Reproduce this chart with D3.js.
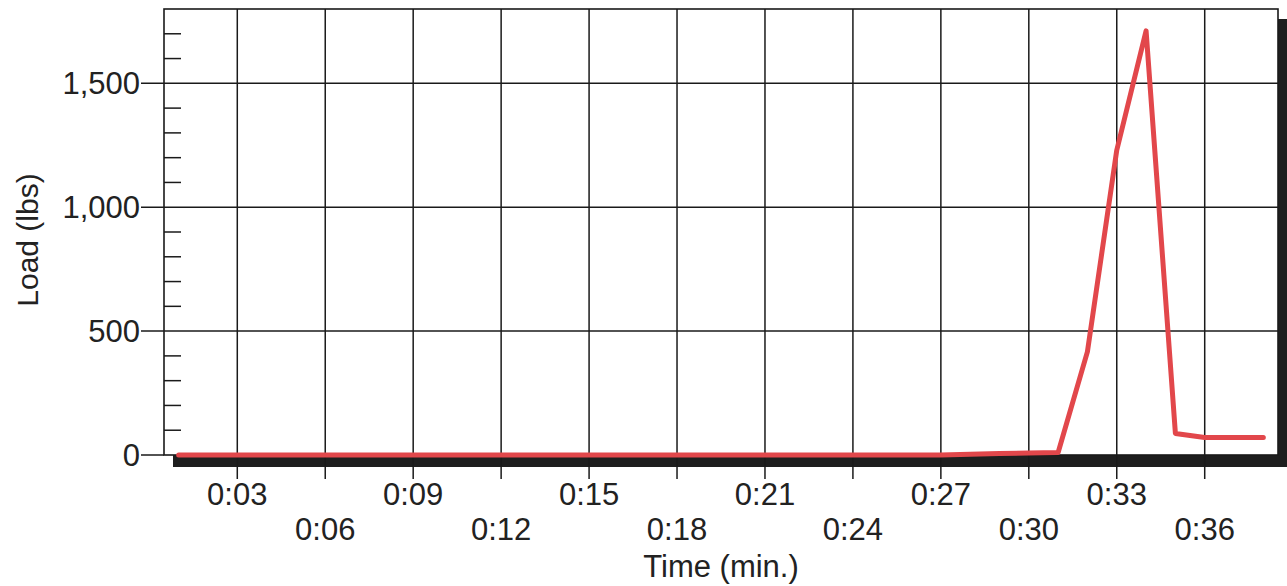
<!DOCTYPE html>
<html><head><meta charset="utf-8">
<script src="https://cdn.jsdelivr.net/npm/d3@7"></script>
<style>
html,body{margin:0;padding:0;background:#fff;}
svg text{font-family:"Liberation Sans",Arial,sans-serif;fill:#222;}
</style></head>
<body>
<svg id="chart" width="1287" height="586"></svg>
<script>
// Data
const minutes = [1,2,3,4,5,6,7,8,9,10,11,12,13,14,15,16,17,18,19,20,21,22,23,24,25,26,27,28,29,30,31,32,33,34,35,36,37,38];
const loads   = [0,0,0,0,0,0,0,0,0,0,0,0,0,0,0,0,0,0,0,0,0,0,0,0,0,0,0,3,6,8,10,417,1230,1712,87,71,71,71];
const xTicks = [3,6,9,12,15,18,21,24,27,30,33,36];
const xTickLabels = ["0:03","0:06","0:09","0:12","0:15","0:18","0:21","0:24","0:27","0:30","0:33","0:36"];
const yMajor = [0,500,1000,1500];
const yMinor = [100,200,300,400,600,700,800,900,1100,1200,1300,1400,1600,1700];

const svg = d3.select("#chart");
const L = 164, R = 1278, T = 9, B = 455;
const x = d3.scaleLinear().domain([0.5, 38.5]).range([L, R]);
const y = d3.scaleLinear().domain([0, 1800]).range([B, T]);

// drop shadow
svg.append("rect").attr("x", L + 9).attr("y", T + 10).attr("width", R - L).attr("height", B - T + 2)
  .attr("fill", "#1e1e1e");
// plot area
svg.append("rect").attr("x", L).attr("y", T).attr("width", R - L).attr("height", B - T)
  .attr("fill", "#fff").attr("stroke", "#1a1a1a").attr("stroke-width", 1.6);

// grid
const g = svg.append("g");
g.selectAll("line.vg").data(xTicks).join("line").attr("class","vg")
  .attr("x1", d => x(d)).attr("x2", d => x(d)).attr("y1", T).attr("y2", 479)
  .attr("stroke", "#1a1a1a").attr("stroke-width", 1.5);
g.selectAll("line.hg").data(yMajor.filter(d => d > 0)).join("line").attr("class","hg")
  .attr("x1", L - 23).attr("x2", R).attr("y1", d => y(d)).attr("y2", d => y(d))
  .attr("stroke", "#1a1a1a").attr("stroke-width", 1.5);
g.append("line").attr("x1", L - 23).attr("x2", L).attr("y1", y(0)).attr("y2", y(0))
  .attr("stroke", "#1a1a1a").attr("stroke-width", 1.5);
g.selectAll("line.mn").data(yMinor).join("line").attr("class","mn")
  .attr("x1", L).attr("x2", L + 17).attr("y1", d => y(d)).attr("y2", d => y(d))
  .attr("stroke", "#1a1a1a").attr("stroke-width", 1.5);

// y axis labels
svg.selectAll("text.yl").data(yMajor).join("text").attr("class","yl")
  .attr("x", L - 24).attr("y", d => y(d) + 11)
  .attr("text-anchor", "end").attr("font-size", 31)
  .text(d => d3.format(",")(d));

// x axis labels (staggered)
svg.selectAll("text.xl").data(xTicks).join("text").attr("class","xl")
  .attr("x", d => x(d)).attr("y", (d, i) => i % 2 === 0 ? 505 : 540)
  .attr("text-anchor", "middle").attr("font-size", 31)
  .text((d, i) => xTickLabels[i]);

// axis titles
svg.append("text").attr("x", 721).attr("y", 577).attr("text-anchor", "middle")
  .attr("font-size", 31).text("Time (min.)");
svg.append("text").attr("transform", "translate(38,240) rotate(-90)")
  .attr("text-anchor", "middle").attr("font-size", 30).text("Load (lbs)");

// series
const line = d3.line().x((d, i) => x(minutes[i])).y(d => y(d));
svg.append("path").datum(loads).attr("d", line)
  .attr("fill", "none").attr("stroke", "#e2474b").attr("stroke-width", 5)
  .attr("stroke-linejoin", "round").attr("stroke-linecap", "round");
</script>
</body></html>
